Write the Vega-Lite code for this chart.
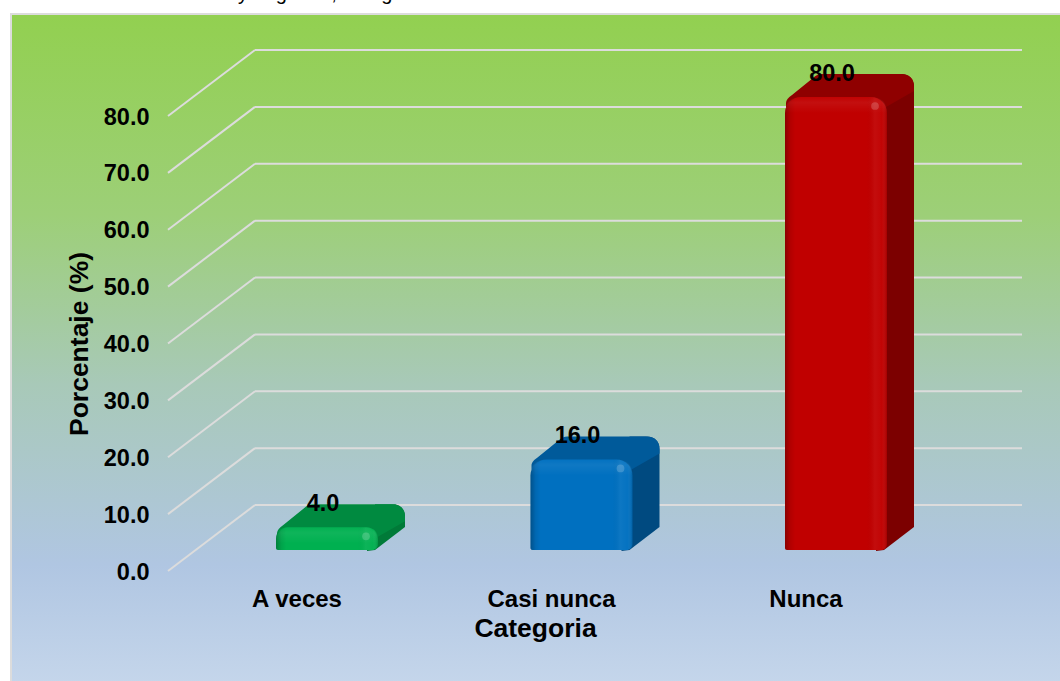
{
"$schema":"https://vega.github.io/schema/vega-lite/v6.json",
"width":1060,"height":681,"padding":0,"autosize":"none",
"background":"white",
"view":{"stroke":null},
"config":{"font":"Liberation Sans"},
"datasets":{
"bars":[{"Categoria":"A veces","Porcentaje":4.0},{"Categoria":"Casi nunca","Porcentaje":16.0},{"Categoria":"Nunca","Porcentaje":80.0}],
"ticks":[{"t":0},{"t":10},{"t":20},{"t":30},{"t":40},{"t":50},{"t":60},{"t":70},{"t":80}],
"panel":[{"a":0,"b":1}],
"cut":[{"a":0,"s":"y\u00a0\u00a0\u00a0\u00a0\u00a0g\u00a0\u00a0\u00a0\u00a0\u00a0\u00a0\u00a0\u00a0,\u00a0\u00a0\u00a0\u00a0\u00a0\u00a0\u00a0\u00a0g"}]
},
"resolve":{"scale":{"x":"independent","y":"independent","color":"independent"}},
"layer":[
{"data":{"name":"cut"},
 "mark":{"type":"text","font":"Liberation Sans","fontSize":20,"color":"#000000","align":"left","baseline":"alphabetic"},
 "encoding":{
  "x":{"field":"a","type":"quantitative","scale":{"domain":[0,1],"range":[238,300]},"axis":null},
  "y":{"field":"a","type":"quantitative","scale":{"domain":[0,1],"range":[0,100]},"axis":null},
  "text":{"field":"s"}}},
{"data":{"name":"panel"},
 "mark":{"type":"rect","stroke":"#dcdcdc","strokeWidth":2,
  "fill":{"gradient":"linear","x1":0,"y1":0,"x2":0,"y2":1,"stops":[{"offset":0,"color":"#92d050"},{"offset":0.3,"color":"#9dcf78"},{"offset":0.55,"color":"#a8c9b8"},{"offset":0.82,"color":"#b0c6e2"},{"offset":1,"color":"#c5d6eb"}]}},
 "encoding":{
  "x":{"field":"a","type":"quantitative","scale":{"domain":[0,1],"range":[11,1065]},"axis":null},
  "x2":{"field":"b"},
  "y":{"field":"a","type":"quantitative","scale":{"domain":[0,1],"range":[686,14]},"axis":null},
  "y2":{"field":"b"}}},
{"data":{"name":"ticks"},
 "mark":{"type":"rule","color":"#dcdcdc","strokeWidth":2,"yOffset":-66,"y2Offset":-66},
 "encoding":{
  "x":{"datum":0,"type":"quantitative","scale":{"domain":[0,1],"range":[255,1022]},"axis":null},
  "x2":{"datum":1},
  "y":{"field":"t","type":"quantitative","scale":{"domain":[0,80],"range":[571,116]},
   "axis":{"zindex":1,"orient":"left","offset":-149,"domain":false,"ticks":false,"grid":false,"values":[0,10,20,30,40,50,60,70,80],"format":".1f","labelFont":"Liberation Sans","labelFontWeight":"bold","labelFontSize":23.5,"labelColor":"#000000","labelPadding":0,"labelOffset":1,"title":"Porcentaje (%)","titleFont":"Liberation Sans","titleFontWeight":"bold","titleFontSize":26.5,"titleColor":"#000000","titlePadding":10}}}},
{"data":{"name":"ticks"},
 "mark":{"type":"rule","color":"#dcdcdc","strokeWidth":2,"y2Offset":-66},
 "encoding":{
  "x":{"datum":0,"type":"quantitative","scale":{"domain":[0,1],"range":[168,255]},"axis":null},
  "x2":{"datum":1},
  "y":{"field":"t","type":"quantitative","scale":{"domain":[0,80],"range":[571,116]},"axis":null},
  "y2":{"field":"t"}}},
{"data":{"name":"bars"},
 "mark":{"type":"bar","width":30,"xOffset":63,"yOffset":-23,"y2Offset":-23,"cornerRadiusTopRight":12,"stroke":null},
  "encoding":{
   "x":{"field":"Categoria","type":"nominal","scale":{"type":"band","domain":["A veces","Casi nunca","Nunca"],"range":[199.75,963.25],"padding":0},"axis":null},
   "y":{"field":"Porcentaje","type":"quantitative","scale":{"domain":[0,80],"range":[550,97]},"axis":null},
   "y2":{"datum":0},
   "color":{"field":"Categoria","type":"nominal","scale":{"domain":["A veces","Casi nunca","Nunca"],"range":["#007a38","#004a80","#7c0000"]},"legend":null}}},
{"data":{"name":"bars"},
 "mark":{"type":"point","filled":true,"opacity":1,"size":4,"strokeWidth":0,"shape":"M 40 1 L 48 0 L 78 -23 L 40 -23 Z"},
  "encoding":{
   "x":{"field":"Categoria","type":"nominal","scale":{"type":"band","domain":["A veces","Casi nunca","Nunca"],"range":[199.75,963.25],"padding":0},"axis":null},
   "y":{"datum":0,"type":"quantitative","scale":{"domain":[0,80],"range":[550,97]},"axis":null},
   "color":{"field":"Categoria","type":"nominal","scale":{"domain":["A veces","Casi nunca","Nunca"],"range":["#007a38","#004a80","#7c0000"]},"legend":null}}},
{"data":{"name":"bars"},
 "mark":{"type":"point","filled":true,"opacity":1,"size":4,"strokeWidth":0,"shape":"M -50 6 Q -50 2 -44 -2 L -23 -19 Q -19 -23 -14 -23 L 64 -23 Q 78 -23 78 -10 L 78 -6 L 50 10 L -50 10 Z"},
  "encoding":{
   "x":{"field":"Categoria","type":"nominal","scale":{"type":"band","domain":["A veces","Casi nunca","Nunca"],"range":[199.75,963.25],"padding":0},"axis":null},
   "y":{"field":"Porcentaje","type":"quantitative","scale":{"domain":[0,80],"range":[550,97]},"axis":null},
   "color":{"field":"Categoria","type":"nominal","scale":{"domain":["A veces","Casi nunca","Nunca"],"range":["#008a40","#005a9a","#8f0000"]},"legend":null}}},
{"data":{"name":"bars"},
 "mark":{"type":"bar","width":102,"cornerRadiusTopLeft":16,"cornerRadiusTopRight":16,"cornerRadiusBottomRight":6,"cornerRadiusBottomLeft":2,"stroke":null},
  "encoding":{
   "x":{"field":"Categoria","type":"nominal","scale":{"type":"band","domain":["A veces","Casi nunca","Nunca"],"range":[199.75,963.25],"padding":0},
    "axis":{"zindex":1,"orient":"bottom","offset":-100,"domain":false,"ticks":false,"grid":false,"labelAngle":0,"labelOffset":-30,"labelPadding":6,"labelFont":"Liberation Sans","labelFontWeight":"bold","labelFontSize":24,"labelColor":"#000000","title":"Categoria","titleFont":"Liberation Sans","titleFontWeight":"bold","titleFontSize":26.5,"titleColor":"#000000","titleX":535,"titleY":47,"titleBaseline":"middle"}},
   "y":{"field":"Porcentaje","type":"quantitative","scale":{"domain":[0,80],"range":[550,97]},"axis":null},
   "y2":{"datum":0},
   "color":{"field":"Categoria","type":"nominal","scale":{"domain":["A veces","Casi nunca","Nunca"],"range":["#00b050","#0070c0","#c00000"]},"legend":null}}},
{"data":{"name":"bars"},
 "mark":{"type":"bar","width":102,"cornerRadiusTopLeft":16,"cornerRadiusTopRight":16,"cornerRadiusBottomRight":6,"cornerRadiusBottomLeft":2,"stroke":null,
   "fill":{"gradient":"linear","x1":0,"y1":0,"x2":1,"y2":0,"stops":[{"offset":0,"color":"rgba(0,0,0,0.28)"},{"offset":0.05,"color":"rgba(0,0,0,0.08)"},{"offset":0.1,"color":"rgba(0,0,0,0)"},{"offset":0.8,"color":"rgba(0,0,0,0)"},{"offset":0.88,"color":"rgba(255,255,255,0.05)"},{"offset":0.95,"color":"rgba(255,255,255,0.02)"},{"offset":1,"color":"rgba(0,0,0,0.15)"}]}},
  "encoding":{
   "x":{"field":"Categoria","type":"nominal","scale":{"type":"band","domain":["A veces","Casi nunca","Nunca"],"range":[199.75,963.25],"padding":0},"axis":null},
   "y":{"field":"Porcentaje","type":"quantitative","scale":{"domain":[0,80],"range":[550,97]},"axis":null},
   "y2":{"datum":0}}},
{"data":{"name":"bars"},
 "mark":{"type":"point","opacity":1,"size":4,"strokeWidth":0,"shape":"M -51 16 Q -51 0 -35 0 L 35 0 Q 51 0 51 16 Z",
   "fill":{"gradient":"linear","x1":0,"y1":0,"x2":0,"y2":1,"stops":[{"offset":0,"color":"rgba(255,255,255,0.01)"},{"offset":0.35,"color":"rgba(255,255,255,0.06)"},{"offset":1,"color":"rgba(255,255,255,0)"}]}},
  "encoding":{
   "x":{"field":"Categoria","type":"nominal","scale":{"type":"band","domain":["A veces","Casi nunca","Nunca"],"range":[199.75,963.25],"padding":0},"axis":null},
   "y":{"field":"Porcentaje","type":"quantitative","scale":{"domain":[0,80],"range":[550,97]},"axis":null}}},
{"data":{"name":"bars"},
 "mark":{"type":"point","filled":true,"color":"#ffffff","opacity":0.18,"size":60,"strokeWidth":0,"shape":"circle","xOffset":39,"yOffset":9},
  "encoding":{
   "x":{"field":"Categoria","type":"nominal","scale":{"type":"band","domain":["A veces","Casi nunca","Nunca"],"range":[199.75,963.25],"padding":0},"axis":null},
   "y":{"field":"Porcentaje","type":"quantitative","scale":{"domain":[0,80],"range":[550,97]},"axis":null}}},
{"data":{"name":"bars"},
 "mark":{"type":"text","font":"Liberation Sans","fontWeight":"bold","fontSize":23.5,"color":"#000000","xOffset":-4,"yOffset":-23,"baseline":"middle","align":"center"},
  "encoding":{
   "x":{"field":"Categoria","type":"nominal","scale":{"type":"band","domain":["A veces","Casi nunca","Nunca"],"range":[199.75,963.25],"padding":0},"axis":null},
   "y":{"field":"Porcentaje","type":"quantitative","scale":{"domain":[0,80],"range":[550,97]},"axis":null},
   "text":{"field":"Porcentaje","type":"quantitative","format":".1f"}}}
]}
